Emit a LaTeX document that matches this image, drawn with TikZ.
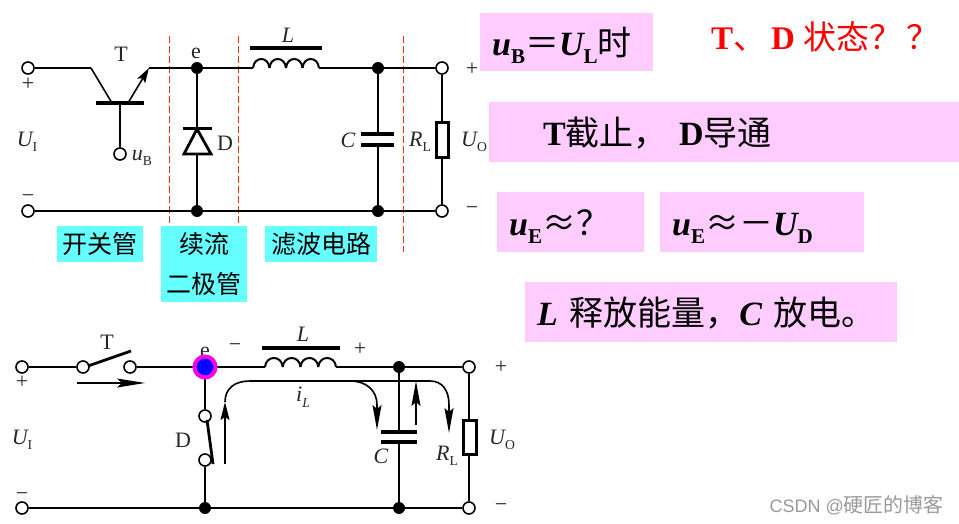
\documentclass[tikz,border=0pt]{standalone}
\usepackage{fontspec}
\setmainfont{Liberation Serif}
\newfontfamily\cjk{Noto Sans CJK SC}
\setsansfont{Liberation Sans}
\usetikzlibrary{arrows.meta}
\newcommand{\vsub}[2]{#1\raisebox{-.25em}{\fontsize{.62em}{1em}\selectfont\upshape #2}}
\newcommand{\han}[1]{{\cjk\mdseries #1}}
\definecolor{notefill}{RGB}{255,204,255}
\definecolor{tagfill}{RGB}{102,255,255}
\definecolor{cutred}{RGB}{255,51,0}
\definecolor{ringpink}{RGB}{255,0,230}
\tikzset{
    x=1pt, y=-1pt,
    wire/.style={line width=1.6pt, black},
    plate/.style={line width=3.8pt, black},
    cutline/.style={line width=1pt, dash pattern=on 7pt off 3pt, cutred},
    flow/.style={line width=1.4pt, -{Stealth[length=18pt,width=9pt,inset=3pt]}},
    longflow/.style={line width=1.4pt, -{Stealth[length=25pt,width=9pt,inset=4pt]}},
    term/.style={circle, draw=black, line width=1.6pt, fill=white, minimum size=12pt, inner sep=0pt},
    dotj/.style={circle, fill=black, minimum size=12pt, inner sep=0pt},
    lbl/.style={font=\fontsize{22}{26}\selectfont, text=black!85, inner sep=0pt},
    tag/.style={fill=tagfill, font=\cjk\fontsize{25}{30}\selectfont, inner sep=0pt, align=center, anchor=north west},
    note/.style={fill=notefill, font=\fontsize{34}{38}\selectfont\bfseries, inner sep=0pt, anchor=north west, align=left, text height=32pt, text depth=6pt},
}
\begin{document}
\begin{tikzpicture}
    \useasboundingbox (0,0) rectangle (959,524);

    \node[note, minimum width=173pt, minimum height=58pt, text width=149pt] (boxa) at (480,13) {\textit{\vsub{u}{B}}\han{＝}\textit{\vsub{U}{L}}\han{时}};
    \node[note, minimum width=470pt, minimum height=60pt, text width=362pt] (boxb) at (489,102) {T\han{截止，}\ D\han{导通}};
    \node[note, minimum width=147pt, minimum height=60pt, text width=123pt] (boxc) at (497,192) {\textit{\vsub{u}{E}}\han{≈}\han{？}};
    \node[note, minimum width=204pt, minimum height=60pt, text width=180pt] (boxd) at (660,192) {\textit{\vsub{u}{E}}\han{≈}\han{－}\textit{\vsub{U}{D}}};
    \node[note, minimum width=372pt, minimum height=60pt, text width=348pt] (boxe) at (525,282) {\textit{L} \han{释放能量，}\textit{C} \han{放电。}};
    \node[font=\fontsize{33}{38}\selectfont\bfseries, text=red, inner sep=0pt, anchor=west] (state) at (711,37) {T\han{、}\hspace{5pt}D \han{状态？\hspace{4pt}？}};

    \node[tag, minimum width=86pt, minimum height=36pt] (tagsw) at (57,226) {开关管};
    \node[tag, minimum width=86pt, minimum height=76pt] (tagd) at (161,226) {续流\\[10pt]二极管};
    \node[tag, minimum width=112pt, minimum height=36pt] (tagf) at (265,226) {滤波电路};

    \coordinate (cuta1) at (169,36); \coordinate (cuta2) at (169,225);
    \coordinate (cutb1) at (238,36); \coordinate (cutb2) at (238,225);
    \coordinate (cutc1) at (403,36); \coordinate (cutc2) at (403,252);
    \draw[cutline] (cuta1) -- (cuta2);
    \draw[cutline] (cutb1) -- (cutb2);
    \draw[cutline] (cutc1) -- (cutc2);

    % upper circuit
    \coordinate (tc) at (91,68); \coordinate (tci) at (112,103);
    \coordinate (tei) at (128,103); \coordinate (te) at (149,68);
    \coordinate (tb) at (120,103);
    \coordinate (tbl) at (96,103); \coordinate (tbr) at (144,103);
    \coordinate (la) at (253,68); \coordinate (lb) at (319,68);
    \coordinate (lbara) at (250,48); \coordinate (lbarb) at (322,48);
    \coordinate (ca) at (378,134); \coordinate (cb) at (378,145);
    \coordinate (ra) at (442,122); \coordinate (rb) at (442,158);
    \coordinate (da) at (197,129); \coordinate (db) at (197,154);
    \node[dotj] (e) at (197,68) {};
    \node[dotj] (eb) at (197,211) {};
    \node[dotj] (k) at (378,68) {};
    \node[dotj] (kb) at (378,211) {};
    \draw[wire] (tc) -- (tci);
    \draw[wire, -{Stealth[length=15pt,width=9pt,inset=3pt]}] (tei) -- (te);
    \draw[plate] (tbl) -- (tbr);
    \draw[plate] (lbara) -- (lbarb);
    \draw[wire] (te) -- (e) -- (la);
    \draw[wire] (lb) -- (k);
    \foreach \k in {0,1,2,3} {
        \draw[wire, line width=2pt] (253+\k*16.5,68) .. controls (254+\k*16.5,56) and (268.5+\k*16.5,56) .. (269.5+\k*16.5,68);
    }
    \draw[wire] (e) -- (da);
    \draw[wire] (db) -- (eb);
    \draw[line width=2.8pt] (da) -- (184,154) -- (211,154) -- cycle;
    \draw[plate, line width=3pt] (183,129) -- (212,129);
    \draw[wire] (k) -- (ca);
    \draw[wire] (cb) -- (kb);
    \draw[plate] (361,134) -- (394,134);
    \draw[plate] (361,145) -- (394,145);
    \node[term] (ina) at (28,68) {};
    \node[term] (inb) at (28,211) {};
    \node[term] (outa) at (442,68) {};
    \node[term] (outb) at (442,211) {};
    \node[term] (base) at (120,154) {};
    \draw[wire] (ina) -- (tc);
    \draw[wire] (inb) -- (eb) -- (kb) -- (outb);
    \draw[wire] (tb) -- (base);
    \draw[wire] (k) -- (outa);
    \draw[wire] (outa) -- (ra);
    \draw[wire] (rb) -- (outb);
    \draw[line width=3pt, fill=white] (436.5,122.5) rectangle (448.5,157.5);

    \node[lbl] (lt) at (121,54) {T};
    \node[lbl] (le) at (196,53) {e};
    \node[lbl] (ld) at (225,143) {D};
    \node[lbl] (ll) at (288,35) {\textit{L}};
    \node[lbl] (lc) at (348,140) {\textit{C}};
    \node[lbl] (lr) at (420,142) {\textit{\vsub{R}{L}}};
    \node[lbl] (luo) at (474,142) {\textit{\vsub{U}{O}}};
    \node[lbl] (lui) at (27,142) {\textit{\vsub{U}{I}}};
    \node[lbl] (lub) at (142,158) {\textit{\vsub{u}{B}}};
    \node[lbl] (pa) at (28,84) {+};
    \node[lbl] (ma) at (28,199) {−};
    \node[lbl] (pb) at (472,69) {+};
    \node[lbl] (mb) at (472,211) {−};

    % lower circuit
    \node[lbl] (le2) at (205,352) {e};
    \coordinate (l2a) at (265,367); \coordinate (l2b) at (336,367);
    \coordinate (c2a) at (399,432); \coordinate (c2b) at (399,442);
    \coordinate (r2a) at (469,420); \coordinate (r2b) at (469,455);
    \coordinate (arma) at (88,366); \coordinate (armb) at (131,351);
    \coordinate (dsa) at (207,420); \coordinate (dsb) at (213,464);
    \node[dotj] (j2) at (399,367) {};
    \node[dotj] (n2) at (399,508) {};
    \node[dotj] (f2) at (205,508) {};
    \node[term] (in2a) at (22,367) {};
    \node[term] (in2b) at (22,508) {};
    \node[term] (sa) at (83,367) {};
    \node[term] (sb) at (130,367) {};
    \node[term] (out2a) at (469,367) {};
    \node[term] (out2b) at (469,508) {};
    \node[term] (dta) at (205,416) {};
    \node[term] (dtb) at (205,460) {};
    \draw[wire] (in2a) -- (sa);
    \draw[wire] (sb) -- (l2a);
    \draw[wire] (in2b) -- (f2) -- (n2) -- (out2b);
    \draw[wire] (205,367) -- (dta);
    \draw[wire] (dtb) -- (f2);
    \draw[wire] (l2b) -- (j2) -- (out2a);
    \draw[wire] (j2) -- (c2a);
    \draw[wire] (c2b) -- (n2);
    \draw[wire] (out2a) -- (r2a);
    \draw[wire] (r2b) -- (out2b);
    \draw[line width=2.8pt] (arma) -- (armb);
    \draw[line width=2.8pt] (dsa) -- (dsb);
    \foreach \k in {0,1,2,3} {
        \draw[wire, line width=2pt] (265+\k*17.75,367) .. controls (266+\k*17.75,355) and (281.75+\k*17.75,355) .. (282.75+\k*17.75,367);
    }
    \draw[plate] (262,348) -- (340,348);
    \draw[plate] (381,432) -- (417,432);
    \draw[plate] (381,442) -- (417,442);
    \draw[line width=3pt, fill=white] (463.5,420.5) rectangle (476.5,454.5);
    \node[circle, draw=ringpink, line width=4pt, fill=blue, minimum size=21pt, inner sep=0pt] (e2) at (205,367) {};

    \coordinate (swa) at (77,383); \coordinate (swb) at (145,383);
    \coordinate (upa) at (225,464); \coordinate (upb) at (225,402);
    \coordinate (topa) at (250,381); \coordinate (topb) at (350,381);
    \coordinate (topc) at (430,381);
    \coordinate (cda) at (377,405); \coordinate (cdb) at (377,430);
    \coordinate (rda) at (449,405); \coordinate (rdb) at (449,433);
    \coordinate (cua) at (416,425); \coordinate (cub) at (416,381);
    \draw[flow, -{Stealth[length=28pt,width=9pt,inset=5pt]}] (swa) -- (swb);
    \draw[flow] (upa) -- (upb);
    \draw[wire] (upb) .. controls (225,388) and (235,381) .. (topa) -- (topc) .. controls (442,381) and (449,390) .. (rda);
    \draw[wire] (topb) .. controls (366,381) and (377,390) .. (cda);
    \draw[longflow] (cda) -- (cdb);
    \draw[longflow] (rda) -- (rdb);
    \draw[longflow] (cua) -- (cub);

    \node[lbl] (lt2) at (107,342) {T};
    \node[lbl] (ld2) at (183,440) {D};
    \node[lbl] (ll2) at (303,334) {\textit{L}};
    \node[lbl] (lc2) at (381,456) {\textit{C}};
    \node[lbl] (lr2) at (447,456) {\textit{\vsub{R}{L}}};
    \node[lbl] (luo2) at (502,440) {\textit{\vsub{U}{O}}};
    \node[lbl] (lui2) at (22,440) {\textit{\vsub{U}{I}}};
    \node[lbl] (lil) at (303,397) {\textit{\vsub{i}{\itshape L}}};
    \node[lbl] (p2a) at (22,382) {+};
    \node[lbl] (m2a) at (22,497) {−};
    \node[lbl] (m2b) at (235,348) {−};
    \node[lbl] (p2b) at (360,349) {+};
    \node[lbl] (p2c) at (501,367) {+};
    \node[lbl] (m2c) at (501,508) {−};

    \node[font=\fontsize{20}{24}\selectfont, text=black!40, inner sep=0pt, anchor=east] (mark) at (944,505) {\sffamily\fontsize{18}{24}\selectfont CSDN @{\cjk\fontsize{20}{24}\selectfont 硬匠的博客}};
\end{tikzpicture}
\end{document}
